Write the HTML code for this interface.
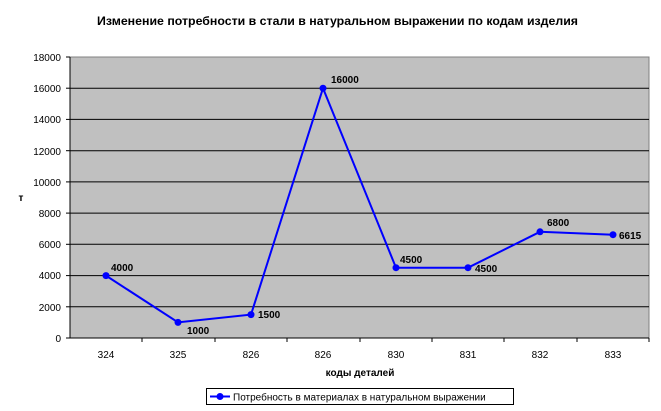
<!DOCTYPE html>
<html><head><meta charset="utf-8"><style>body{margin:0;background:#fff}svg{display:block}text{font-family:"Liberation Sans",Arial,sans-serif}</style></head><body>
<svg width="661" height="411" viewBox="0 0 661 411">
<rect width="661" height="411" fill="#fff"/>
<text x="97" y="25" font-size="12" font-weight="bold" textLength="481" lengthAdjust="spacingAndGlyphs">Изменение потребности в стали в натуральном выражении по кодам изделия</text>
<rect x="70" y="57" width="579" height="281" fill="#c0c0c0" stroke="#808080" stroke-width="1"/>
<g stroke="#000" stroke-width="1">
<line x1="70" y1="88.2" x2="649" y2="88.2"/><line x1="70" y1="119.4" x2="649" y2="119.4"/><line x1="70" y1="150.7" x2="649" y2="150.7"/><line x1="70" y1="181.9" x2="649" y2="181.9"/><line x1="70" y1="213.1" x2="649" y2="213.1"/><line x1="70" y1="244.3" x2="649" y2="244.3"/><line x1="70" y1="275.6" x2="649" y2="275.6"/><line x1="70" y1="306.8" x2="649" y2="306.8"/>
<line x1="70" y1="57" x2="70" y2="338"/><line x1="70" y1="338" x2="649" y2="338"/>
<line x1="66" y1="57" x2="70" y2="57"/><line x1="66" y1="88.2" x2="70" y2="88.2"/><line x1="66" y1="119.4" x2="70" y2="119.4"/><line x1="66" y1="150.7" x2="70" y2="150.7"/><line x1="66" y1="181.9" x2="70" y2="181.9"/><line x1="66" y1="213.1" x2="70" y2="213.1"/><line x1="66" y1="244.3" x2="70" y2="244.3"/><line x1="66" y1="275.6" x2="70" y2="275.6"/><line x1="66" y1="306.8" x2="70" y2="306.8"/><line x1="66" y1="338" x2="70" y2="338"/>
<line x1="142" y1="338" x2="142" y2="342"/><line x1="215" y1="338" x2="215" y2="342"/><line x1="287" y1="338" x2="287" y2="342"/><line x1="360" y1="338" x2="360" y2="342"/><line x1="432" y1="338" x2="432" y2="342"/><line x1="504" y1="338" x2="504" y2="342"/><line x1="577" y1="338" x2="577" y2="342"/><line x1="649" y1="338" x2="649" y2="342"/>
</g>
<g font-size="10" text-anchor="end">
<text x="61" y="61">18000</text><text x="61" y="92">16000</text><text x="61" y="123">14000</text><text x="61" y="155">12000</text><text x="61" y="186">10000</text><text x="61" y="217">8000</text><text x="61" y="248">6000</text><text x="61" y="279">4000</text><text x="61" y="311">2000</text><text x="61" y="342">0</text>
</g>
<g font-size="10" text-anchor="middle">
<text x="106" y="358">324</text><text x="178" y="358">325</text><text x="251" y="358">826</text><text x="323" y="358">826</text><text x="396" y="358">830</text><text x="468" y="358">831</text><text x="540" y="358">832</text><text x="613" y="358">833</text>
</g>
<text x="360" y="376" font-size="10" font-weight="bold" text-anchor="middle">коды деталей</text>
<text x="21" y="201" font-size="10" font-weight="bold" text-anchor="middle">т</text>
<polyline fill="none" stroke="#0000ff" stroke-width="2" points="106,275.6 178,322.4 251,314.6 323,88.2 396,267.7 468,267.7 540,231.8 613,234.7"/>
<g fill="#0000ff">
<circle cx="106" cy="275.6" r="3.5"/><circle cx="178" cy="322.4" r="3.5"/><circle cx="251" cy="314.6" r="3.5"/><circle cx="323" cy="88.2" r="3.5"/><circle cx="396" cy="267.7" r="3.5"/><circle cx="468" cy="267.7" r="3.5"/><circle cx="540" cy="231.8" r="3.5"/><circle cx="613" cy="234.7" r="3.5"/>
</g>
<g font-size="10" font-weight="bold">
<text x="111" y="271">4000</text><text x="187" y="334">1000</text><text x="258" y="318">1500</text><text x="331" y="83">16000</text><text x="400" y="263">4500</text><text x="475" y="272">4500</text><text x="547" y="226">6800</text><text x="619" y="239">6615</text>
</g>
<rect x="206.5" y="388.5" width="307" height="16" fill="#fff" stroke="#000"/>
<line x1="210" y1="396.5" x2="230" y2="396.5" stroke="#0000ff" stroke-width="2"/>
<circle cx="220" cy="396.5" r="3.5" fill="#0000ff"/>
<text x="233" y="400.5" font-size="10">Потребность в материалах в натуральном выражении</text>
</svg>
</body></html>
